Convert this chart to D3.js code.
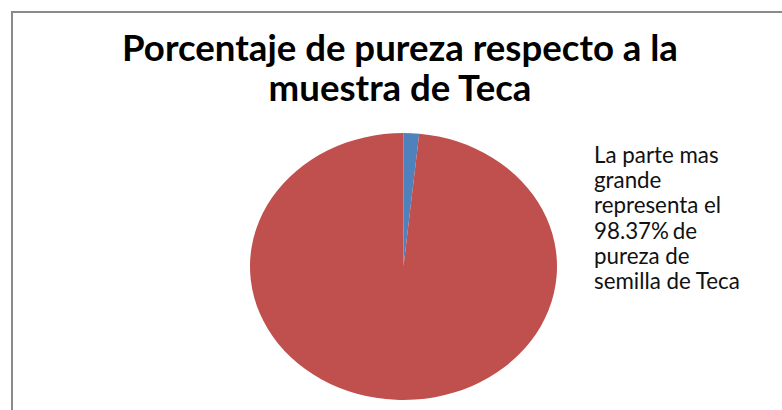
<!DOCTYPE html>
<html lang="es">
<head>
  <meta charset="UTF-8" />
  <title>Porcentaje de pureza</title>
  <style>
    html, body { margin: 0; padding: 0; background: #fff; overflow: hidden; }
    svg { display: block; }
    .title { font-family: Lato, "Open Sans", sans-serif; font-weight: bold; fill: #000; text-anchor: middle; }
    .note { font-family: Lato, "Open Sans", sans-serif; fill: #111; }
  </style>
  <script src="https://d3js.org/d3.v7.min.js"></script>
</head>
<body>
  <svg id="chart" width="782" height="410"></svg>
  <script>
    // data
    const categories = ["Impurezas", "Semilla pura de Teca"];
    const values = [1.63, 98.37];
    const colors = ["#4F81BD", "#C0504D"];
    const titleLines = ["Porcentaje de pureza respecto a la", "muestra de Teca"];
    const noteLines = ["La parte mas", "grande", "representa el", "98.37% de", "pureza de", "semilla de Teca"];

    const width = 782, height = 410;
    const svg = d3.select("#chart");

    // chart border (top + left visible, rest cut off)
    svg.append("path")
      .attr("d", `M12,${height} L12,12 L${width},12`)
      .attr("fill", "none")
      .attr("stroke", "#8a8a8a")
      .attr("stroke-width", 2);

    // title
    svg.selectAll("text.title")
      .data(titleLines)
      .join("text")
      .attr("class", "title")
      .attr("x", 400)
      .attr("y", (d, i) => 61 + i * 40)
      .style("font-size", "31px")
      .text(d => d);

    // fit title line 1 to ~556px wide
    const t0 = svg.select("text.title").node();
    const w0 = t0.getComputedTextLength();
    const fs = 31 * 556 / w0;
    svg.selectAll("text.title").style("font-size", fs + "px");

    // pie (elliptical)
    const cx = 403.5, cy = 266.5, rx = 153.5, ry = 133.5;
    const pie = d3.pie().sort(null).value(d => d);
    const arc = d3.arc().innerRadius(0).outerRadius(rx);

    svg.append("g")
      .attr("transform", `translate(${cx},${cy}) scale(1,${ry / rx})`)
      .selectAll("path")
      .data(pie(values))
      .join("path")
      .attr("d", arc)
      .attr("fill", (d, i) => colors[i]);

    // annotation text
    const note = svg.append("text")
      .attr("class", "note")
      .style("font-size", "19px");
    note.selectAll("tspan")
      .data(noteLines)
      .join("tspan")
      .attr("x", 594)
      .attr("y", (d, i) => 163 + i * 25.2)
      .style("word-spacing", d => d.startsWith("98") ? "-2px" : null)
      .text(d => d);

    // fit last note line to ~146px
    const last = note.selectAll("tspan").nodes()[noteLines.length - 1];
    const wl = last.getComputedTextLength();
    note.style("font-size", (19 * 146 / wl) + "px");
  </script>
</body>
</html>
